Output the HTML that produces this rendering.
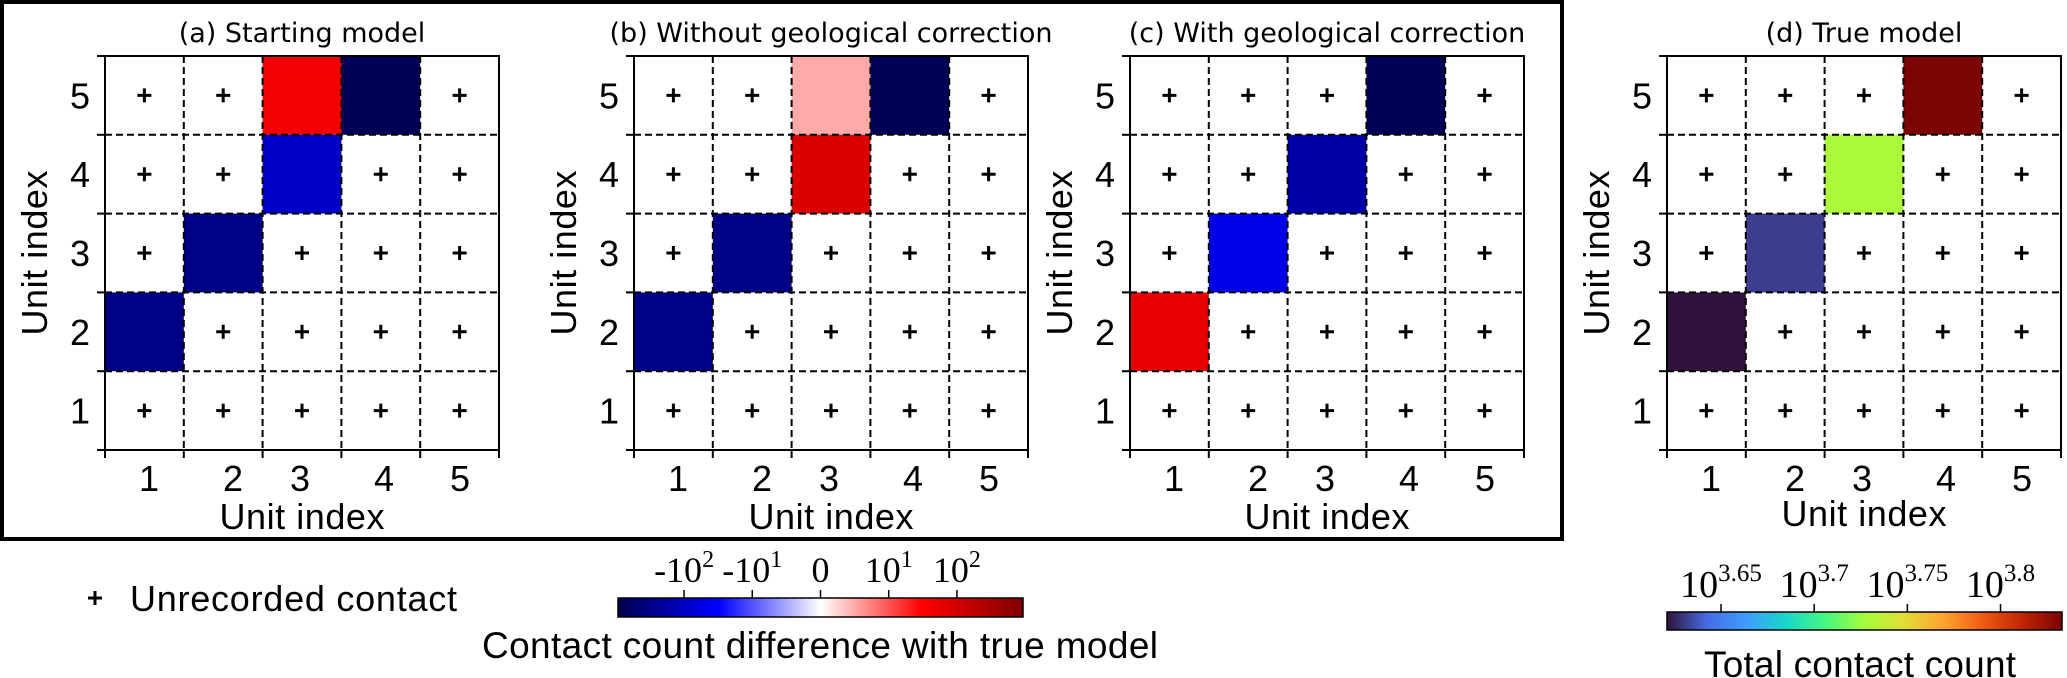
<!DOCTYPE html>
<html><head><meta charset="utf-8"><style>
html,body{margin:0;padding:0;background:#fff;}
svg{display:block;}
text{font-family:"Liberation Sans",sans-serif;fill:#000;}
.t{font-family:"DejaVu Sans","Liberation Sans",sans-serif;font-size:27px;}
.s{font-family:"Liberation Serif",serif;}
</style></head><body>
<svg id="fig" width="2067" height="678" viewBox="0 0 2067 678" xmlns="http://www.w3.org/2000/svg">
<defs>
<linearGradient id="seis" x1="0" x2="1" y1="0" y2="0">
<stop offset="0" stop-color="#00004c"/><stop offset="0.25" stop-color="#0000ff"/><stop offset="0.5" stop-color="#ffffff"/><stop offset="0.75" stop-color="#ff0000"/><stop offset="1" stop-color="#800000"/>
</linearGradient>
<linearGradient id="turbo" x1="0" x2="1" y1="0" y2="0">
<stop offset="0" stop-color="rgb(48,18,59)"/><stop offset="0.1" stop-color="rgb(70,107,227)"/><stop offset="0.2" stop-color="rgb(62,156,254)"/><stop offset="0.3" stop-color="rgb(24,214,203)"/><stop offset="0.4" stop-color="rgb(70,247,131)"/><stop offset="0.5" stop-color="rgb(164,252,60)"/><stop offset="0.6" stop-color="rgb(225,221,55)"/><stop offset="0.7" stop-color="rgb(254,163,49)"/><stop offset="0.8" stop-color="rgb(239,90,17)"/><stop offset="0.9" stop-color="rgb(194,36,3)"/><stop offset="1" stop-color="rgb(122,4,3)"/>
</linearGradient>
</defs>
<rect x="2" y="2" width="1560" height="537" fill="none" stroke="#000" stroke-width="4"/>
<g id="panels"></g>
<g>
<path d="M88 598h14M95 591v14" stroke="#000" stroke-width="3"/>
<text x="130" y="611" font-size="36" textLength="327">Unrecorded contact</text>
</g>
<g id="cb1">
<rect x="618" y="598" width="405" height="19" fill="url(#seis)" stroke="#000" stroke-width="1.5"/>
<text x="820" y="658" font-size="37" text-anchor="middle" textLength="676">Contact count difference with true model</text>
</g>
<g id="cb2">
<rect x="1667" y="612" width="395" height="18" fill="url(#turbo)" stroke="#000" stroke-width="1.5"/>
<text x="1860" y="677" font-size="37" text-anchor="middle" textLength="312">Total contact count</text>
</g>
</svg>
<script>
const NS="http://www.w3.org/2000/svg";
// ---- data ----
const panelTitles=["(a) Starting model","(b) Without geological correction","(c) With geological correction","(d) True model"];
const unitLabels=["1","2","3","4","5"];
// cells: [xUnit, yUnit, value]; all other cells are unrecorded (+)
const cellsA=[[3,5,40],[4,5,-800],[3,4,-90],[2,3,-300],[1,2,-300]];
const cellsB=[[3,5,5],[4,5,-800],[3,4,80],[2,3,-300],[1,2,-300]];
const cellsC=[[4,5,-800],[3,4,-160],[2,3,-49],[1,2,56]];
const cellsD=[[4,5,6800],[3,4,5360],[2,3,4280],[1,2,4180]];
const diffTickValues=[-100,-10,0,10,100];
const diffTickLabels=[["-10","2"],["-10","1"],["0",""],["10","1"],["10","2"]];
const totalTickExps=[3.65,3.7,3.75,3.8];
const totalTickLabels=["3.65","3.7","3.75","3.8"];
const DIFF_MAX=930, LINTHRESH=10;
const LOG_MIN=3.621, LOG_MAX=3.833;
// ---- layout ----
const lefts=[105,634,1130,1667];
const TOP=56, CELL=78.8;
const labelOff=[44,128,195,279,355];

function el(tag,attrs,parent){const e=document.createElementNS(NS,tag);for(const k in attrs)e.setAttribute(k,attrs[k]);parent.appendChild(e);return e;}
function symFrac(v){const a=Math.abs(v);const s=a<=LINTHRESH?a/LINTHRESH:1+Math.log10(a/LINTHRESH);const m=1+Math.log10(DIFF_MAX/LINTHRESH);return 0.5+0.5*Math.sign(v)*s/m;}
function logFrac(v){return (Math.log10(v)-LOG_MIN)/(LOG_MAX-LOG_MIN);}
function lerpStops(stops,f){f=Math.max(0,Math.min(1,f));for(let i=1;i<stops.length;i++){if(f<=stops[i][0]){const a=stops[i-1],b=stops[i];const t=(f-a[0])/(b[0]-a[0]);const c=[0,1,2].map(k=>Math.round(a[1][k]+(b[1][k]-a[1][k])*t));return `rgb(${c.join(',')})`;}}return `rgb(${stops[stops.length-1][1].join(',')})`;}
const seisStops=[[0,[0,0,76]],[0.25,[0,0,255]],[0.5,[255,255,255]],[0.75,[255,0,0]],[1,[128,0,0]]];
const turboStops=[[0,[48,18,59]],[0.1,[70,107,227]],[0.2,[62,156,254]],[0.3,[24,214,203]],[0.4,[70,247,131]],[0.5,[164,252,60]],[0.6,[225,221,55]],[0.7,[254,163,49]],[0.8,[239,90,17]],[0.9,[194,36,3]],[1,[122,4,3]]];

const allCells=[cellsA,cellsB,cellsC,cellsD];
const panelsG=document.getElementById('panels');
allCells.forEach((cells,p)=>{
  const L=lefts[p];const W=CELL*5;const B=TOP+W;
  const xs=u=>L+(u-1)*CELL; const ys=u=>TOP+(5-u)*CELL;
  const g=el('g',{},panelsG);
  
  
  const filled={};
  cells.forEach(c=>{filled[c[0]+','+c[1]]=1;
    const col=p===3?lerpStops(turboStops,logFrac(c[2])):lerpStops(seisStops,symFrac(c[2]));
    const r=el('rect',{x:xs(c[0]),y:ys(c[1]),width:CELL,height:CELL,fill:col},g);
    
    
  });
  for(let xu=1;xu<=5;xu++)for(let yu=1;yu<=5;yu++){if(filled[xu+','+yu])continue;
    const cx=xs(xu)+CELL/2, cy=ys(yu)+CELL/2;
    const m=el('path',{d:`M${cx-7} ${cy}h14M${cx} ${cy-7}v14`,stroke:'#000','stroke-width':3},g);
    
    
  }
  for(let i=1;i<5;i++){
    const v=el('line',{x1:L+i*CELL,x2:L+i*CELL,y1:TOP,y2:B,stroke:'#000','stroke-width':2,'stroke-dasharray':'7,4'},g);
    
    
    const h=el('line',{x1:L,x2:L+W,y1:TOP+i*CELL,y2:TOP+i*CELL,stroke:'#000','stroke-width':2,'stroke-dasharray':'7,4'},g);
    
    
  }
  for(let i=0;i<=5;i++){
    const t=el('line',{x1:L+i*CELL,x2:L+i*CELL,y1:B,y2:B+8,stroke:'#000','stroke-width':2},g);
    
    
    const ty=el('line',{x1:L-8,x2:L,y1:TOP+i*CELL,y2:TOP+i*CELL,stroke:'#000','stroke-width':2},g);
    
    
  }
  const fr=el('rect',{x:L,y:TOP,width:W,height:W,fill:'none',stroke:'#000','stroke-width':2},g);
  
  
  unitLabels.forEach((lab,i)=>{
    const tx=el('text',{x:L+labelOff[i],y:B+41,'font-size':36,'text-anchor':'middle'},g);tx.textContent=lab;
    
    
    const ty=el('text',{x:L-25,y:ys(i+1)+CELL/2+13,'font-size':36,'text-anchor':'middle'},g);ty.textContent=lab;
    
    
  });
  const xl=el('text',{x:L+W/2,y:(p===3?526:529),'font-size':36,'text-anchor':'middle',textLength:165},g);xl.textContent='Unit index';
  
  
  const yl=el('text',{x:0,y:0,'font-size':36,'text-anchor':'middle',textLength:165,transform:`translate(${L-58},${TOP+W/2}) rotate(-90)`},g);yl.textContent='Unit index';
  
  
  const tt=el('text',{x:L+W/2,y:42,'text-anchor':'middle','class':'t'},g);tt.textContent=panelTitles[p];
  
  
});
// colorbar 1 ticks
const cb1=document.getElementById('cb1');
diffTickValues.forEach((v,i)=>{
  const x=618+405*symFrac(v);
  const t=el('line',{x1:x,x2:x,y1:590,y2:598,stroke:'#000','stroke-width':1.5},cb1);
  
  
  const tx=el('text',{x:x,y:582,'font-size':36,'text-anchor':'middle','class':'s'},cb1);
  tx.textContent=diffTickLabels[i][0];
  if(diffTickLabels[i][1]){const s=el('tspan',{dy:-15,'font-size':24},tx);s.textContent=diffTickLabels[i][1];}
  
  
});
// colorbar 2 ticks
const cb2=document.getElementById('cb2');
totalTickExps.forEach((e,i)=>{
  const x=1667+395*(e-LOG_MIN)/(LOG_MAX-LOG_MIN);
  const t=el('line',{x1:x,x2:x,y1:604,y2:612,stroke:'#000','stroke-width':1.5},cb2);
  
  
  const tx=el('text',{x:x,y:597,'font-size':38,'text-anchor':'middle','class':'s'},cb2);
  tx.textContent='10';
  const s=el('tspan',{dy:-16,'font-size':25},tx);s.textContent=totalTickLabels[i];
  
  
});
</script>
</body></html>
